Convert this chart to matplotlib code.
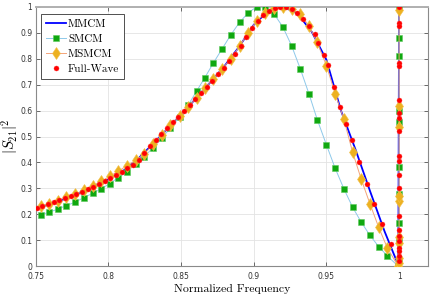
#!/usr/bin/env python3
"""
|S21|^2 versus normalized frequency: circuit models against full-wave.
"""

import matplotlib
matplotlib.use("Agg")
import matplotlib.pyplot as plt

OUTPUT_FILE = "out.png"

# MMCM (solid blue line)
mmcm_f = [0.75, 0.76, 0.77, 0.78, 0.79, 0.80, 0.81, 0.82, 0.83, 0.84, 0.85, 0.86,
          0.87, 0.88, 0.89, 0.90, 0.91, 0.92, 0.93, 0.94, 0.95, 0.96, 0.97, 0.98,
          0.99, 0.998, 0.9995, 1.0]
mmcm_v = [0.222, 0.240, 0.260, 0.283, 0.307, 0.335, 0.367, 0.412, 0.468, 0.526, 0.585, 0.645,
          0.708, 0.772, 0.846, 0.930, 0.983, 1.0, 0.974, 0.902, 0.795, 0.600, 0.450, 0.290,
          0.135, 0.025, 0.0, 1.0]

# SMCM (green squares)
smcm_f = [0.7533, 0.7593, 0.7650, 0.7710, 0.7770, 0.7831, 0.7891, 0.7951, 0.8008, 0.8068,
          0.8127, 0.8187, 0.8247, 0.8307, 0.8367, 0.8427, 0.8490, 0.8550, 0.8607, 0.8664,
          0.8720, 0.8783, 0.8843, 0.8903, 0.8962, 0.9020, 0.9080, 0.9139, 0.9200, 0.9260,
          0.9320, 0.9380, 0.9437, 0.9500, 0.9560, 0.9620, 0.9680, 0.9740, 0.9800, 0.9860,
          0.9920, 0.9995,
          1.0, 1.0, 1.0, 1.0, 1.0, 1.0, 1.0, 1.0, 1.0, 1.0]
smcm_v = [0.198, 0.209, 0.220, 0.234, 0.247, 0.265, 0.281, 0.299, 0.318, 0.342,
          0.365, 0.394, 0.423, 0.457, 0.494, 0.533, 0.575, 0.622, 0.675, 0.727,
          0.781, 0.838, 0.892, 0.940, 0.976, 0.999, 0.999, 0.972, 0.922, 0.850,
          0.761, 0.664, 0.565, 0.468, 0.378, 0.299, 0.228, 0.170, 0.119, 0.076,
          0.040, 0.0,
          0.025, 0.102, 0.166, 0.279, 0.382, 0.557, 0.598, 0.811, 0.878, 1.0]

# MSMCM (orange diamonds)
msmcm_f = [0.7533, 0.7593, 0.7650, 0.7710, 0.7770, 0.7831, 0.7891, 0.7951, 0.8008, 0.8068,
           0.8127, 0.8187, 0.8247, 0.8307, 0.8367, 0.8427, 0.8490, 0.8550, 0.8607, 0.8664,
           0.8720, 0.8783, 0.8843, 0.8903, 0.8962, 0.9020, 0.9080, 0.9139, 0.9200, 0.9260,
           0.9320, 0.9380, 0.9437, 0.9500, 0.9560, 0.9620, 0.9680, 0.9740, 0.9800, 0.9860,
           0.9920, 0.9995,
           1.0, 1.0, 1.0, 1.0, 1.0, 1.0, 1.0, 1.0, 1.0]
msmcm_v = [0.231, 0.241, 0.253, 0.266, 0.278, 0.293, 0.311, 0.327, 0.347, 0.366,
           0.388, 0.408, 0.433, 0.470, 0.506, 0.544, 0.580, 0.615, 0.650, 0.686,
           0.722, 0.760, 0.800, 0.848, 0.900, 0.945, 0.976, 0.995, 1.0, 0.992,
           0.972, 0.925, 0.862, 0.773, 0.665, 0.567, 0.440, 0.335, 0.240, 0.150,
           0.070, 0.0,
           0.012, 0.032, 0.089, 0.115, 0.250, 0.270, 0.535, 0.616, 0.987]

# Full-Wave (red dots)
fw_f = [0.7507, 0.7546, 0.7585, 0.7624, 0.7663, 0.7702, 0.7741, 0.7780, 0.7819, 0.7858,
        0.7897, 0.7936, 0.7975, 0.8014, 0.8053, 0.8092, 0.8131, 0.8170, 0.8209, 0.8248,
        0.8287, 0.8326, 0.8365, 0.8404, 0.8443, 0.8482, 0.8521, 0.8560, 0.8599, 0.8638,
        0.8677, 0.8716, 0.8755, 0.8794, 0.8833, 0.8872, 0.8911, 0.8950, 0.8989, 0.9028,
        0.9067, 0.9106, 0.9145, 0.9184, 0.9223, 0.9262, 0.9301, 0.9340, 0.9379, 0.9418,
        0.9443, 0.9483, 0.9512, 0.9554, 0.9593, 0.9633, 0.9673, 0.9723, 0.9776, 0.9828,
        0.9883, 0.9941,
        1.0, 1.0, 1.0, 1.0, 1.0, 1.0, 1.0, 1.0, 1.0, 1.0, 1.0,
        1.0, 1.0, 1.0, 1.0, 1.0, 1.0, 1.0, 1.0, 1.0, 1.0]
fw_v = [0.224, 0.233, 0.241, 0.249, 0.256, 0.264, 0.272, 0.280, 0.288, 0.297,
        0.307, 0.317, 0.328, 0.340, 0.352, 0.364, 0.377, 0.391, 0.410, 0.436,
        0.463, 0.488, 0.510, 0.532, 0.554, 0.576, 0.599, 0.622, 0.645, 0.668,
        0.691, 0.715, 0.739, 0.764, 0.790, 0.818, 0.850, 0.884, 0.918, 0.945,
        0.967, 0.984, 0.995, 1.0, 0.998, 0.990, 0.974, 0.952, 0.925, 0.893,
        0.860, 0.815, 0.777, 0.690, 0.612, 0.548, 0.487, 0.400, 0.318, 0.240,
        0.164, 0.087,
        1.0, 0.935, 0.924, 0.783, 0.770, 0.642, 0.590, 0.572, 0.522, 0.426, 0.404,
        0.350, 0.300, 0.193, 0.142, 0.116, 0.097, 0.071, 0.058, 0.039, 0.020]

x_ticks = [0.75, 0.8, 0.85, 0.9, 0.95, 1.0]
x_tick_labels = ["0.75", "0.8", "0.85", "0.9", "0.95", "1"]
y_ticks = [0, 0.1, 0.2, 0.3, 0.4, 0.5, 0.6, 0.7, 0.8, 0.9, 1.0]
y_tick_labels = ["0", "0.1", "0.2", "0.3", "0.4", "0.5", "0.6", "0.7", "0.8", "0.9", "1"]


def plot_chart():
    plt.rcParams["mathtext.fontset"] = "cm"
    fig = plt.figure(figsize=(4.36, 3.0), dpi=100)
    ax = fig.add_axes([0.082, 0.112, 0.900, 0.866])

    ax.plot(mmcm_f, mmcm_v, color="#0000ff", linewidth=1.3, label="MMCM", zorder=3)
    ax.plot(smcm_f, smcm_v, color="#8ec9ea", linewidth=0.7, marker="s", markersize=4.2,
            markerfacecolor="#10a810", markeredgecolor="#5cc95c", markeredgewidth=0.4,
            label="SMCM", zorder=4)
    ax.plot(msmcm_f, msmcm_v, color="#f4a47a", linewidth=0.7, marker="d", markersize=6,
            markerfacecolor="#edb120", markeredgecolor="#f2c04a", markeredgewidth=0.4,
            label="MSMCM", zorder=5)
    ax.plot(fw_f, fw_v, linestyle="none", marker="o", markersize=3.6,
            markerfacecolor="#ff0000", markeredgecolor="#ff3030", markeredgewidth=0.3,
            label="Full-Wave", zorder=6)

    ax.set_xlim(0.75, 1.02)
    ax.set_ylim(0, 1)
    ax.set_xticks(x_ticks)
    ax.set_xticklabels(x_tick_labels)
    ax.set_yticks(y_ticks)
    ax.set_yticklabels(y_tick_labels)
    ax.tick_params(direction="in", length=3, width=0.6, color="#555555", labelsize=5.5,
                   labelcolor="#333333", top=True, right=True)
    ax.tick_params(axis="x", pad=4)
    ax.tick_params(axis="y", pad=2.5)

    ax.grid(True, color="#e3e3e3", linewidth=0.6)
    ax.set_axisbelow(True)
    for side in ["left", "bottom", "right"]:
        ax.spines[side].set_color("#8a8a8a")
        ax.spines[side].set_linewidth(0.8)
    ax.spines["top"].set_color("#b0b0b0")
    ax.spines["top"].set_linewidth(1.4)

    ax.set_xlabel("Normalized Frequency", fontfamily="cmr10", fontsize=8.5, labelpad=2)
    ax.set_ylabel(r"$|S_{21}|^2$", fontsize=10.5)
    ax.yaxis.set_label_coords(-0.040, 0.5)

    leg = ax.legend(loc="upper left", prop={"family": "cmr10", "size": 8},
                    frameon=True, fancybox=False, edgecolor="#333333", framealpha=1,
                    bbox_to_anchor=(0.013, 0.972), borderaxespad=0, borderpad=0.45,
                    labelspacing=0.48, handlelength=1.8, handletextpad=0.2)
    leg.get_frame().set_linewidth(0.6)

    plt.savefig(OUTPUT_FILE, dpi=100)
    plt.close()


if __name__ == "__main__":
    plot_chart()
